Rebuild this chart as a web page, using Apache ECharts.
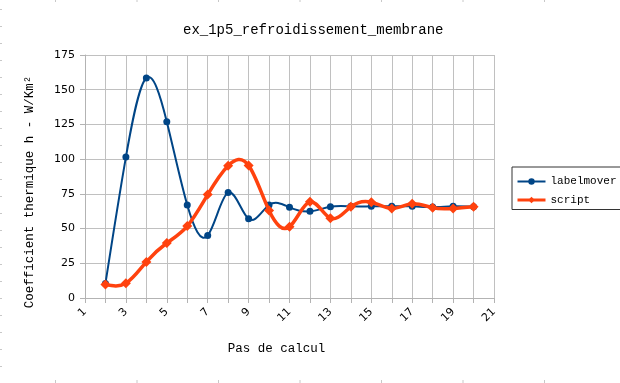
<!DOCTYPE html>
<html>
<head>
<meta charset="utf-8">
<script src="https://cdn.jsdelivr.net/npm/echarts@6/dist/echarts.min.js"></script>
<style>html,body{margin:0;padding:0;background:#fff;}#c{width:620px;height:383px;}</style>
</head>
<body>
<div id="c"></div>
<script>
const steps = [2, 3, 4, 5, 6, 7, 8, 9, 10, 11, 12, 13, 14, 15, 16, 17, 18, 19, 20];
const labelmover = [10.5, 101.5, 158.5, 127, 67, 45, 76, 57, 67, 65.3, 62.4, 65.7, 66, 66, 66, 66, 65.5, 66, 65.7];
const script = [9.8, 10.6, 26, 39.6, 51.8, 74.5, 95.3, 95.5, 63, 51.3, 69.3, 57.4, 65.7, 69, 64.5, 67.9, 65, 64.5, 65.7];
const yTicks = [0, 25, 50, 75, 100, 125, 150, 175];
const xTicks = [1, 3, 5, 7, 9, 11, 13, 15, 17, 19, 21];

const mono = '"Liberation Mono", "DejaVu Sans Mono", monospace';
const sans = '"DejaVu Sans", sans-serif';
const gridColor = '#c0c0c0';
const BLUE = '#004586', ORANGE = '#ff420e';

// natural cubic spline slopes (for drawing the curve like a spreadsheet "cubic spline")
function splineSlopes(xs, ys) {
  const n = xs.length, h = [], M = new Array(n).fill(0);
  for (let i = 0; i < n - 1; i++) h.push(xs[i + 1] - xs[i]);
  const a = [], b = [], c = [], r = [];
  for (let i = 1; i < n - 1; i++) {
    a.push(h[i - 1]); b.push(2 * (h[i - 1] + h[i])); c.push(h[i]);
    r.push(6 * ((ys[i + 1] - ys[i]) / h[i] - (ys[i] - ys[i - 1]) / h[i - 1]));
  }
  const m = b.length;
  for (let i = 1; i < m; i++) {
    const w = a[i] / b[i - 1];
    b[i] -= w * c[i - 1]; r[i] -= w * r[i - 1];
  }
  const sol = new Array(m);
  for (let i = m - 1; i >= 0; i--) sol[i] = (r[i] - (i < m - 1 ? c[i] * sol[i + 1] : 0)) / b[i];
  for (let i = 0; i < m; i++) M[i + 1] = sol[i];
  const d = [];
  for (let i = 0; i < n - 1; i++) d.push((ys[i + 1] - ys[i]) / h[i] - h[i] * (2 * M[i] + M[i + 1]) / 6);
  d.push((ys[n - 1] - ys[n - 2]) / h[n - 2] + h[n - 2] * (M[n - 2] + 2 * M[n - 1]) / 6);
  return d;
}

function splineSeries(name, xs, ys, color, width, z) {
  const d = splineSlopes(xs, ys);
  return {
    name: name, type: 'custom', coordinateSystem: 'cartesian2d', z: z, silent: true,
    data: xs.map((x, i) => [x, ys[i]]),
    encode: {x: 0, y: 1},
    renderItem: function (params, api) {
      const i = params.dataIndex;
      if (i >= xs.length - 1) return null;
      const h = xs[i + 1] - xs[i];
      const p0 = api.coord([xs[i], ys[i]]);
      const p1 = api.coord([xs[i] + h / 3, ys[i] + d[i] * h / 3]);
      const p2 = api.coord([xs[i + 1] - h / 3, ys[i + 1] - d[i + 1] * h / 3]);
      const p3 = api.coord([xs[i + 1], ys[i + 1]]);
      return {
        type: 'bezierCurve',
        shape: {x1: p0[0], y1: p0[1], cpx1: p1[0], cpy1: p1[1], cpx2: p2[0], cpy2: p2[1], x2: p3[0], y2: p3[1]},
        style: {stroke: color, lineWidth: width, fill: null, lineJoin: 'round', lineCap: 'round'}
      };
    }
  };
}

const chart = echarts.init(document.getElementById('c'), null, {renderer: 'canvas'});

// faint spreadsheet cell marks around the edges
const deco = [];
for (let k = 0; k < 7; k++) {
  const x = 55.5 + k * 81.5;
  deco.push({type: 'line', shape: {x1: x, y1: 0, x2: x, y2: 2}, style: {stroke: '#c8c8c8', lineWidth: 1}, silent: true});
  deco.push({type: 'line', shape: {x1: x, y1: 380, x2: x, y2: 383}, style: {stroke: '#c8c8c8', lineWidth: 1}, silent: true});
}
for (let k = 0; k < 22; k++) {
  const y = 9.5 + k * 17;
  deco.push({type: 'line', shape: {x1: 0, y1: y, x2: 2, y2: y}, style: {stroke: '#c8c8c8', lineWidth: 1}, silent: true});
}

chart.setOption({
  animation: false,
  backgroundColor: '#fff',
  title: {
    text: 'ex_1p5_refroidissement_membrane',
    left: 178, top: 18,
    textStyle: {fontFamily: mono, fontSize: 14, fontWeight: 'normal', color: '#000'}
  },
  legend: {
    orient: 'vertical',
    left: 512, top: 167,
    padding: [9, 4, 4, 4],
    itemGap: 7.5,
    itemWidth: 28, itemHeight: 8,
    borderColor: '#333', borderWidth: 1,
    textStyle: {fontFamily: mono, fontSize: 11, color: '#000'},
    data: [
      {name: 'labelmover', lineStyle: {color: BLUE, width: 2, opacity: 1}},
      {name: 'script', lineStyle: {color: ORANGE, width: 3, opacity: 1}}
    ]
  },
  graphic: deco.concat([
    {type: 'text', x: 30, y: 192, rotation: Math.PI / 2,
     style: {text: 'Coefficient thermique h - W/Km²', font: '12.5px ' + mono, fill: '#000', align: 'center', verticalAlign: 'middle'}},
    {type: 'text', x: 276.5, y: 349,
     style: {text: 'Pas de calcul', font: '12.5px ' + mono, fill: '#000', align: 'center', verticalAlign: 'middle'}}
  ]),
  grid: {left: 85, right: 126, top: 55, bottom: 85, containLabel: false},
  xAxis: {
    type: 'value', min: xTicks[0], max: xTicks[xTicks.length - 1], interval: 2,
    axisLine: {show: true, lineStyle: {color: '#b3b3b3', width: 1}},
    axisTick: {show: true, length: 5, lineStyle: {color: '#b3b3b3'}},
    minorTick: {show: true, splitNumber: 2, length: 5, lineStyle: {color: '#b3b3b3'}},
    splitLine: {show: true, lineStyle: {color: gridColor, width: 1}},
    minorSplitLine: {show: true, lineStyle: {color: gridColor, width: 1}},
    axisLabel: {rotate: 45, margin: 12, fontFamily: sans, fontSize: 11, color: '#000'}
  },
  yAxis: {
    type: 'value', min: yTicks[0], max: yTicks[yTicks.length - 1], interval: 25,
    axisLine: {show: true, lineStyle: {color: '#b3b3b3', width: 1}},
    axisTick: {show: true, length: 5, lineStyle: {color: '#b3b3b3'}},
    splitLine: {show: true, lineStyle: {color: gridColor, width: 1}},
    axisLabel: {margin: 10, fontFamily: sans, fontSize: 11, color: '#000'}
  },
  series: [
    splineSeries('labelmover-curve', steps, labelmover, BLUE, 2, 2),
    {
      name: 'labelmover', type: 'line',
      data: steps.map((s, i) => [s, labelmover[i]]),
      symbol: 'circle', symbolSize: 7,
      lineStyle: {color: BLUE, width: 0, opacity: 0},
      itemStyle: {color: BLUE},
      z: 2
    },
    splineSeries('script-curve', steps, script, ORANGE, 3.5, 3),
    {
      name: 'script', type: 'line',
      data: steps.map((s, i) => [s, script[i]]),
      symbol: 'diamond', symbolSize: 10,
      lineStyle: {color: ORANGE, width: 0, opacity: 0},
      itemStyle: {color: ORANGE},
      z: 3
    }
  ]
});
</script>
</body>
</html>
